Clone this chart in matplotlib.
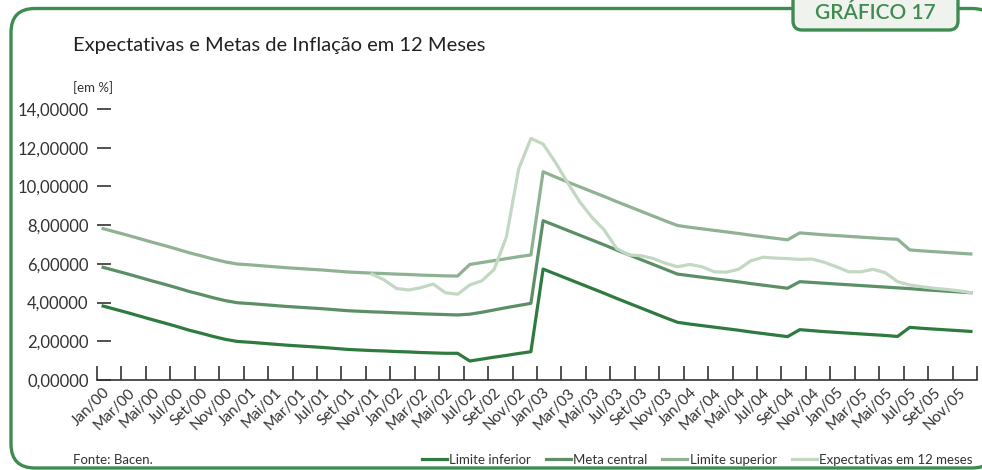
import matplotlib
matplotlib.use("Agg")
import matplotlib.pyplot as plt
from matplotlib.patches import FancyBboxPatch
import numpy as np

plt.rcParams['font.family'] = ['Lato', 'DejaVu Sans']

# ---------------- data ----------------
months = ["Jan", "Fev", "Mar", "Abr", "Mai", "Jun", "Jul", "Ago", "Set", "Out", "Nov", "Dez"]
years = ["00", "01", "02", "03", "04", "05"]
categories = [f"{m}/{y}" for y in years for m in months]
# labels shown every second month (as printed in the original)
label_months = ["Jan", "Mar", "Mai", "Jul", "Set", "Nov"]
tick_labels = [f"{m}/{y}" for y in years for m in label_months]
tick_labels[7] = "Mai/01"
tick_labels[8] = "Mar/01"

meta_central = [5.82, 5.65, 5.48, 5.30, 5.12, 4.95, 4.77, 4.58, 4.42, 4.25, 4.10, 3.99,
                3.95, 3.90, 3.85, 3.80, 3.76, 3.72, 3.68, 3.63, 3.58, 3.55, 3.52, 3.50,
                3.47, 3.45, 3.42, 3.40, 3.38, 3.36, 3.40, 3.50, 3.62, 3.74, 3.85, 3.96,
                8.23, 7.98, 7.73, 7.48, 7.23, 6.98, 6.72, 6.47, 6.22, 5.97, 5.72, 5.47,
                5.39, 5.31, 5.23, 5.15, 5.07, 4.98, 4.90, 4.82, 4.74, 5.08, 5.04, 5.00,
                4.96, 4.92, 4.88, 4.84, 4.80, 4.76, 4.72, 4.67, 4.63, 4.59, 4.55, 4.51]

limite_superior = [7.82, 7.65, 7.48, 7.30, 7.12, 6.95, 6.77, 6.58, 6.42, 6.25, 6.10, 5.99,
                   5.95, 5.90, 5.85, 5.80, 5.76, 5.72, 5.68, 5.63, 5.58, 5.55, 5.52, 5.50,
                   5.47, 5.45, 5.42, 5.40, 5.38, 5.37, 5.97, 6.07, 6.17, 6.27, 6.37, 6.46,
                   10.76, 10.49, 10.23, 9.98, 9.73, 9.48, 9.22, 8.97, 8.72, 8.47, 8.22, 7.98,
                   7.89, 7.81, 7.73, 7.65, 7.57, 7.48, 7.40, 7.32, 7.24, 7.60, 7.55, 7.50,
                   7.46, 7.42, 7.38, 7.34, 7.30, 7.27, 6.72, 6.67, 6.63, 6.59, 6.55, 6.51]

limite_inferior = [3.82, 3.65, 3.48, 3.30, 3.12, 2.95, 2.77, 2.58, 2.42, 2.25, 2.10, 1.99,
                   1.95, 1.90, 1.85, 1.80, 1.76, 1.72, 1.68, 1.63, 1.58, 1.55, 1.52, 1.50,
                   1.47, 1.45, 1.42, 1.40, 1.38, 1.38, 0.98, 1.08, 1.18, 1.27, 1.37, 1.46,
                   5.73, 5.48, 5.23, 4.98, 4.73, 4.48, 4.22, 3.97, 3.72, 3.47, 3.22, 2.98,
                   2.89, 2.81, 2.73, 2.65, 2.57, 2.48, 2.40, 2.32, 2.24, 2.60, 2.55, 2.50,
                   2.46, 2.42, 2.38, 2.34, 2.30, 2.25, 2.72, 2.67, 2.63, 2.59, 2.55, 2.51]

# survey expectations start in Nov/01
expect_start = 22
expectativas = [5.47, 5.17, 4.73, 4.65, 4.77, 4.96, 4.51, 4.43, 4.91, 5.13, 5.72, 7.40,
                10.90, 12.48, 12.19, 11.25, 10.20, 9.20, 8.40, 7.75, 6.80, 6.46, 6.42, 6.28,
                6.03, 5.85, 5.97, 5.85, 5.59, 5.57, 5.72, 6.16, 6.34, 6.30, 6.27, 6.23,
                6.25, 6.08, 5.85, 5.59, 5.59, 5.72, 5.54, 5.08, 4.91, 4.82, 4.74, 4.68,
                4.61, 4.51]

y_ticks = [0, 2, 4, 6, 8, 10, 12, 14]

# ---------------- figure ----------------
W, H = 982, 470
fig = plt.figure(figsize=(W / 100, H / 100), dpi=100)

# background overlay in pixel coordinates
bg = fig.add_axes([0, 0, 1, 1], zorder=-1)
bg.set_xlim(0, W)
bg.set_ylim(H, 0)
bg.axis('off')

green = '#3f8c50'
frame = FancyBboxPatch((11, 8.5), 985, 459.5, boxstyle="round,pad=0,rounding_size=24",
                       fc='white', ec=green, lw=2.4)
bg.add_patch(frame)
badge = FancyBboxPatch((793, -20), 165, 50, boxstyle="round,pad=0,rounding_size=9",
                       fc='#f0f2ee', ec=green, lw=2.4)
bg.add_patch(badge)
bg.text(875, 19, "GRÁFICO 17", color=green, fontsize=15, fontweight='semibold',
        ha='center', va='baseline')

fig.text(73 / W, 1 - 45 / H, "Expectativas e Metas de Inflação em 12 Meses",
         fontsize=14.5, color='#222222', ha='left', va='center')
fig.text(73 / W, 1 - 88 / H, "[em %]", fontsize=9.5, color='#333333', ha='left', va='center')
fig.text(73 / W, 1 - 460 / H, "Fonte: Bacen.", fontsize=9.5, color='#333333',
         ha='left', va='center')

# main axes
left, right, bottom, top = 97, 977, 380, 109
ax = fig.add_axes([left / W, 1 - bottom / H, (right - left) / W, (bottom - top) / H])
ax.set_facecolor('none')

x = np.arange(len(categories))
c_inf = '#2f7a3e'
c_meta = '#5c8f65'
c_sup = '#8fb293'
c_exp = '#c3d8c2'
lw = 2.3
ax.plot(x, limite_inferior, color=c_inf, lw=lw, label='Limite inferior', solid_joinstyle='round')
ax.plot(x, meta_central, color=c_meta, lw=lw, label='Meta central', solid_joinstyle='round')
ax.plot(x, limite_superior, color=c_sup, lw=lw, label='Limite superior', solid_joinstyle='round')
ax.plot(x[expect_start:expect_start + len(expectativas)], expectativas, color=c_exp, lw=lw,
        label='Expectativas em 12 meses', solid_joinstyle='round')

ax.set_xlim(-0.5, len(categories) - 0.5)
ax.set_ylim(0, 14)

for s in ['left', 'top', 'right']:
    ax.spines[s].set_visible(False)
ax.spines['bottom'].set_color('#333333')
ax.spines['bottom'].set_linewidth(1.2)

ax.set_yticks(y_ticks)
ax.set_yticklabels([f"{v:.5f}".replace('.', ',') for v in y_ticks])
ax.tick_params(axis='y', direction='in', length=10, width=1.2, color='#333333',
               labelsize=12, labelcolor='#333333', pad=6)

ax.set_xticks(np.arange(-0.5, len(categories), 2))
ax.set_xticklabels([])
ax.set_xticks(np.arange(0, len(categories), 2), minor=True)
ax.set_xticklabels(tick_labels, minor=True, rotation=45, ha='right', va='top',
                   rotation_mode='anchor', fontsize=11, color='#333333')
ax.tick_params(axis='x', which='major', direction='in', length=10, width=1.2, color='#333333')
ax.tick_params(axis='x', which='minor', length=0, pad=4)

leg = ax.legend(loc='center right', bbox_to_anchor=(978 / W, 1 - 460 / H),
                bbox_transform=fig.transFigure, ncol=4, frameon=False, fontsize=9.5,
                handlelength=1.9, handletextpad=0.2, columnspacing=1.1, borderaxespad=0)
for t in leg.get_texts():
    t.set_color('#333333')

fig.savefig("out.png", dpi=100)
